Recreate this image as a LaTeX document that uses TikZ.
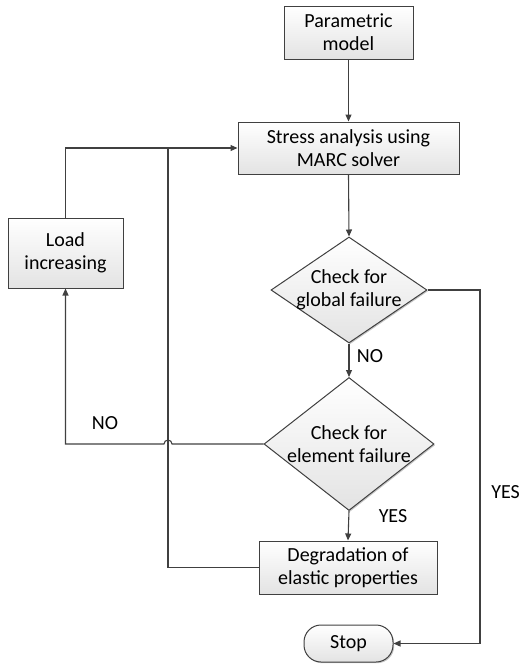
\documentclass[tikz,border=0pt]{standalone}
\usepackage{fontspec}
\setmainfont{Carlito}
\usetikzlibrary{shapes.geometric,arrows.meta,shadows}
\definecolor{linec}{HTML}{404040}
\tikzset{
  x=1pt, y=-1pt,
  txt/.style={font=\fontsize{20}{23}\selectfont, align=center, text=black},
  shade/.style={top color=white, bottom color=gray!22, draw=linec, line width=1pt,
     drop shadow={shadow xshift=1.2pt, shadow yshift=-1.2pt, fill=gray, opacity=0.45}},
  procbox/.style={shade, rectangle, inner sep=0pt, txt},
  decbox/.style={shade, diamond, inner sep=0pt},
  termbox/.style={shade, rectangle, rounded corners=17pt, inner sep=0pt, txt},
  conn/.style={draw=linec, line width=1.1pt},
  arr/.style={conn, -{Triangle[length=7pt,width=6pt]}},
  lbl/.style={font=\fontsize{20}{23}\selectfont, text=black}
}
\begin{document}
\begin{tikzpicture}
\useasboundingbox (0,0) rectangle (521,664);

\node[procbox, minimum width=129pt, minimum height=53pt] (param) at (348.5,32.5) {Parametric\\model};
\node[procbox, minimum width=221pt, minimum height=52pt] (stress) at (348.5,148) {Stress analysis using\\MARC solver};
\node[procbox, minimum width=115pt, minimum height=70pt] (load) at (65.5,253) {Load\\increasing};
\node[decbox, minimum width=156pt, minimum height=106pt] (glob) at (349,290) {};
\node[txt] (globt) at (349,290) {Check for\\global failure};
\node[decbox, minimum width=170pt, minimum height=133pt] (elem) at (349,444) {};
\node[txt] (elemt) at (349,444) {Check for\\element failure};
\node[procbox, minimum width=178pt, minimum height=53pt] (degr) at (348,567.5) {Degradation of\\elastic properties};
\node[termbox, minimum width=89pt, minimum height=37pt] (stop) at (348.5,643.5) {Stop};

\coordinate (j) at (168,148);
\coordinate (hopR) at (172,444);
\coordinate (cornerR) at (480,290);

\draw[arr] (param.south) -- (stress.north);
\draw[arr] (stress.south) -- (glob.north);
\draw[arr] (glob.south) -- (elem.north);
\draw[arr] (elem.south) -- (degr.north);
\draw[arr] (glob.east) -- (cornerR) |- (stop.east);
\draw[arr] (elem.west) -- (hopR) arc[start angle=0, end angle=180, radius=4pt] -- (load.south |- elem.west) -- (load.south);
\draw[arr] (load.north) |- (stress.west);
\draw[conn] (degr.west) -| (j);

\node[lbl] (no1) at (370,356) {NO};
\node[lbl] (yes1) at (393,516) {YES};
\node[lbl] (no2) at (105,423) {NO};
\node[lbl, anchor=east, inner xsep=0pt] (yes2) at (520,492) {YES};
\end{tikzpicture}
\end{document}
